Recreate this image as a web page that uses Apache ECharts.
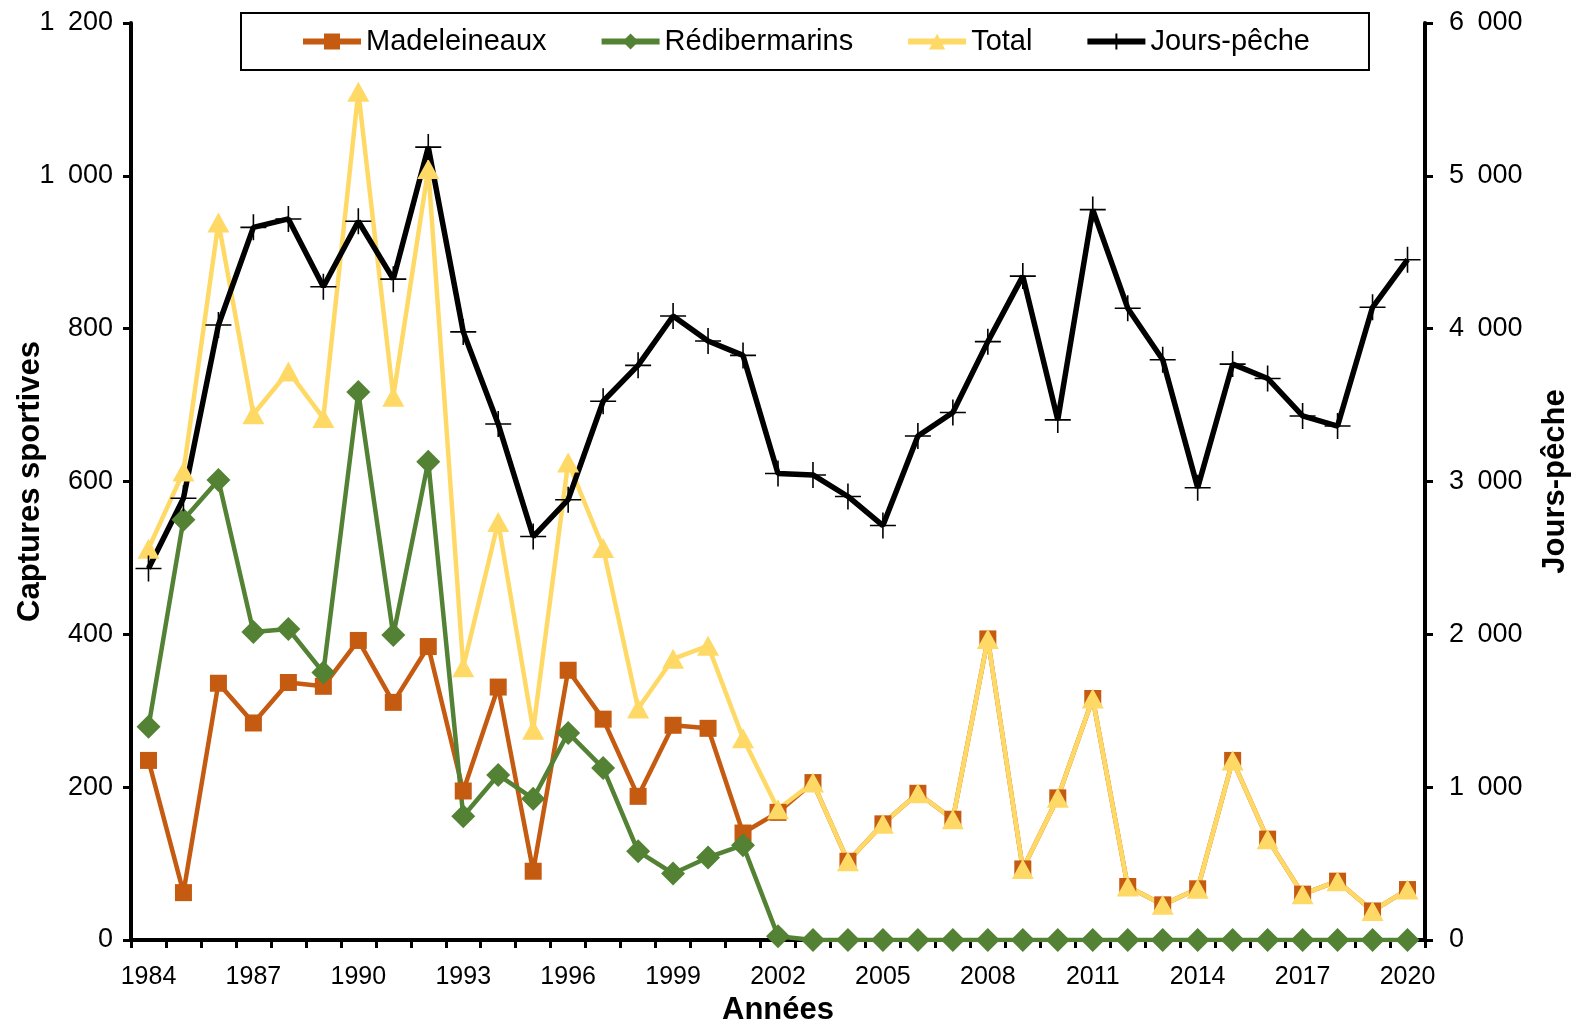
<!DOCTYPE html>
<html>
<head>
<meta charset="utf-8">
<script src="https://cdn.jsdelivr.net/npm/echarts@6/dist/echarts.min.js"></script>
<style>
  html, body { margin: 0; padding: 0; background: #fff; }
  #chart { width: 1577px; height: 1023px; }
</style>
</head>
<body>
<div id="chart"></div>
<script>
// années 1984 - 2020
const years = [];
for (let y = 1984; y <= 2020; y++) years.push(String(y));

const madeleineaux = [235, 62, 336, 284, 337, 332, 392, 311, 384, 195, 331, 90, 353, 289, 188, 281, 277, 140,
  167, 206, 103, 152, 192, 158, 394, 93, 186, 316, 70, 46, 67, 235, 132, 60, 77, 38, 66];
const redibermarins = [279, 550, 602, 403, 407, 350, 717, 399, 626, 162, 216, 185, 271, 225, 116, 87, 108, 124,
  5, 0, 0, 0, 0, 0, 0, 0, 0, 0, 0, 0, 0, 0, 0, 0, 0, 0, 0];
const total = [512, 613, 939, 688, 744, 683, 1110, 711, 1009, 357, 547, 275, 625, 513, 303, 368, 385, 264,
  171, 206, 103, 152, 192, 158, 394, 93, 186, 316, 70, 46, 67, 235, 132, 60, 77, 38, 66];
const joursPeche = [2431, 2890, 4024, 4663, 4718, 4274, 4703, 4324, 5188, 3979, 3376, 2640, 2881, 3525, 3760, 4083,
  3919, 3825, 3052, 3043, 2902, 2712, 3298, 3451, 3915, 4344, 3403, 4779, 4134, 3797, 2959, 3768, 3674, 3429,
  3363, 4140, 4451];

const FONT = '"Liberation Sans", Arial, sans-serif';
// séparateur de milliers à la française
const fmt = (v) => String(v).replace(/\B(?=(\d{3})+(?!\d))/g, '\u2002');

const chart = echarts.init(document.getElementById('chart'));

const axisLine = { show: true, lineStyle: { color: '#000', width: 4 } };
const tick = { show: true, inside: false, length: 8, lineStyle: { color: '#000', width: 3 } };
const nameStyle = { fontSize: 31, fontWeight: 'bold', color: '#000', fontFamily: FONT };

chart.setOption({
  animation: false,
  backgroundColor: '#fff',
  textStyle: { fontFamily: FONT },
  legend: {
    left: 241,
    top: 13,
    padding: [14, 59, 14, 59],
    borderColor: '#000',
    borderWidth: 2,
    itemGap: 52,
    itemWidth: 58,
    itemHeight: 20,
    lineStyle: { width: 6 },
    textStyle: { fontSize: 29, color: '#000', fontFamily: FONT },
    data: ['Madeleineaux', 'Rédibermarins', 'Total', 'Jours-pêche'],
  },
  grid: { left: 131, right: 152, top: 23, bottom: 83, containLabel: false, outerBoundsMode: 'none' },
  xAxis: {
    type: 'category',
    data: years,
    boundaryGap: true,
    name: 'Années',
    nameLocation: 'middle',
    nameGap: 50,
    nameTextStyle: nameStyle,
    axisLine: axisLine,
    axisTick: { ...tick, interval: 0 },
    axisLabel: { interval: 2, fontSize: 25, color: '#000', margin: 25, fontFamily: FONT },
    splitLine: { show: false },
  },
  yAxis: [
    {
      type: 'value',
      min: 0,
      max: 1200,
      interval: 200,
      name: 'Captures sportives',
      nameLocation: 'middle',
      nameRotate: 90,
      nameGap: 85,
      nameMoveOverlap: false,
      nameTextStyle: nameStyle,
      axisLine: axisLine,
      axisTick: tick,
      axisLabel: { fontSize: 27, color: '#000', margin: 18, formatter: fmt, fontFamily: FONT },
      splitLine: { show: false },
    },
    {
      type: 'value',
      position: 'right',
      min: 0,
      max: 6000,
      interval: 1000,
      name: 'Jours-pêche',
      nameLocation: 'middle',
      nameRotate: 90,
      nameGap: 115,
      nameMoveOverlap: false,
      nameTextStyle: nameStyle,
      axisLine: axisLine,
      axisTick: tick,
      axisLabel: { fontSize: 27, color: '#000', margin: 24, formatter: fmt, fontFamily: FONT },
      splitLine: { show: false },
    },
  ],
  series: [
    {
      name: 'Madeleineaux',
      type: 'line',
      yAxisIndex: 0,
      data: madeleineaux,
      showAllSymbol: true,
      symbol: 'rect',
      symbolSize: 17,
      lineStyle: { color: '#C55A11', width: 4.5 },
      itemStyle: { color: '#C55A11' },
    },
    {
      name: 'Rédibermarins',
      type: 'line',
      yAxisIndex: 0,
      data: redibermarins,
      showAllSymbol: true,
      symbol: 'diamond',
      symbolSize: [24, 24],
      lineStyle: { color: '#548235', width: 4.5 },
      itemStyle: { color: '#548235' },
    },
    {
      name: 'Total',
      type: 'line',
      yAxisIndex: 0,
      data: total,
      showAllSymbol: true,
      symbol: 'triangle',
      symbolSize: [22, 20],
      lineStyle: { color: '#FFD966', width: 4.5 },
      itemStyle: { color: '#FFD966' },
    },
    {
      name: 'Jours-pêche',
      type: 'line',
      yAxisIndex: 1,
      data: joursPeche,
      showAllSymbol: true,
      symbol: 'path://M10,0 L10,20 M0,10 L20,10',
      symbolSize: 26,
      lineStyle: { color: '#000', width: 5.5 },
      itemStyle: { color: 'none', borderColor: '#000', borderWidth: 1.6 },
    },
  ],
});
</script>
</body>
</html>
